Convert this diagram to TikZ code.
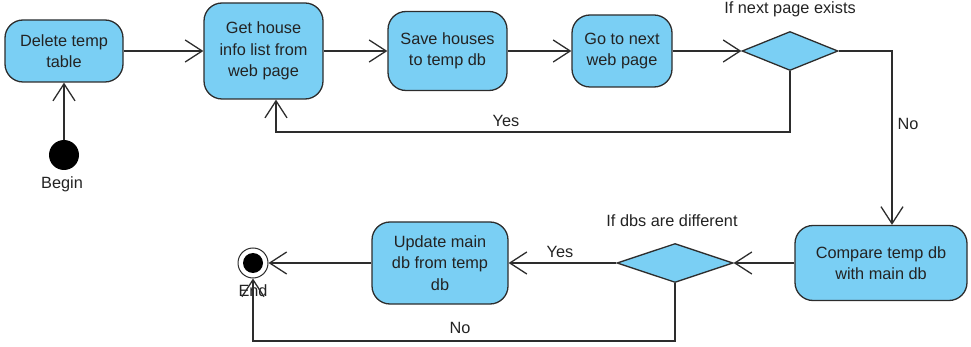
\documentclass[tikz,border=0pt]{standalone}
\usepackage{fontspec}
\setmainfont{Liberation Sans}
\usetikzlibrary{shapes.geometric,arrows.meta}
\definecolor{actfill}{RGB}{122,207,244}
\definecolor{edge}{RGB}{45,45,45}
\definecolor{txt}{RGB}{35,35,35}
\tikzset{
  act/.style={draw=edge, line width=1.3pt, fill=actfill, rounded corners=18pt, align=center, inner sep=0pt, text=txt, font=\fontsize{16.3}{21.5}\selectfont},
  dec/.style={draw=edge, line width=1.3pt, fill=actfill, diamond, inner sep=0pt},
  lbl/.style={text=txt, font=\fontsize{16.3}{19}\selectfont, inner sep=0pt},
  flow/.style={draw=edge, line width=1.3pt, -{Straight Barb[length=17pt,width=22pt,line width=1.3pt]}}
}
\begin{document}
\begin{tikzpicture}[x=1pt,y=-1pt]
\useasboundingbox (0,0) rectangle (971,347);
% nodes
\node[act, minimum width=118pt, minimum height=62pt] (del) at (64,51) {Delete temp\\table};
\node[act, minimum width=119pt, minimum height=96pt] (get) at (263.5,51) {Get house\\info list from\\web page};
\node[act, minimum width=119pt, minimum height=79pt] (save) at (447.5,51) {Save houses\\to temp db};
\node[act, minimum width=100pt, minimum height=72pt] (next) at (622,51) {Go to next\\web page};
\node[dec, minimum width=96pt, minimum height=39pt] (d1) at (790,51) {};
\node[act, minimum width=172pt, minimum height=75pt] (cmp) at (881,263) {Compare temp db\\with main db};
\node[dec, minimum width=116pt, minimum height=39pt] (d2) at (675,263) {};
\node[act, minimum width=136pt, minimum height=82pt] (upd) at (440,263) {Update main\\db from temp\\db};
\node[circle, fill=black, minimum size=30pt, inner sep=0pt] (begin) at (64,155) {};
\node[circle, draw=edge, line width=1pt, fill=white, minimum size=30pt, inner sep=0pt] (end) at (253,263) {};
\fill[black] (end.center) circle (10);
% labels
\node[lbl] (lbegin) at (62,184) {Begin};
\node[lbl] (lend) at (253,291) {End};
\node[lbl] (ld1) at (790,9) {If next page exists};
\node[lbl] (ld2) at (672,221) {If dbs are different};
\node[lbl] (lyes1) at (506,121) {Yes};
\node[lbl] (lno1) at (908,124) {No};
\node[lbl] (lyes2) at (560,252) {Yes};
\node[lbl] (lno2) at (460,328) {No};
% helper coordinates
\coordinate (c1) at (276,132);
\coordinate (c2) at (892,51);
\coordinate (c3) at (253,341);
% connectors
\draw[flow] (begin) -- (del);
\draw[flow] (del) -- (get);
\draw[flow] (get) -- (save);
\draw[flow] (save) -- (next);
\draw[flow] (next) -- (d1.west);
\draw[flow] (d1.south) |- (c1) -- (get.south -| c1);
\draw[flow] (d1.east) -- (c2) -- (cmp.north -| c2);
\draw[flow] (cmp.west) -- (d2.east);
\draw[flow] (d2.west) -- (upd.east);
\draw[flow] (upd.west) -- (end.east);
\draw[flow] (d2.south) |- (c3) -- (end.south);
\end{tikzpicture}
\end{document}
